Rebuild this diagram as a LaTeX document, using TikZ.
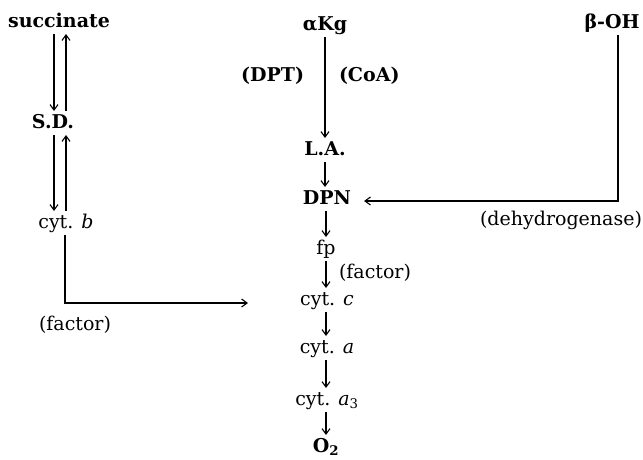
\documentclass[tikz,border=0pt]{standalone}
\usepackage{fontspec}
\setmainfont{DejaVu Serif}
\usetikzlibrary{arrows.meta}
\begin{document}
\begin{tikzpicture}[x=1pt,y=-1pt,
  t/.style={font=\fontsize{19}{23}\selectfont, inner sep=1pt, outer sep=2pt, text height=14pt, text depth=4pt},
  bt/.style={t, font=\fontsize{19}{23}\selectfont\bfseries},
  arr/.style={-{Straight Barb[length=5.5pt,width=8pt]}, line width=1.1pt},
  ln/.style={line width=1.1pt}]
\useasboundingbox (0,0) rectangle (643,459);
\node[bt] (succ) at (59,22) {succinate};
\node[bt] (akg) at (325,25) {αKg};
\node[bt] (boh) at (612,23) {β-OH};
\node[bt, anchor=east] (dpt) at (307,76) {(DPT)};
\node[bt, anchor=west] (coa) at (336,76) {(CoA)};
\node[bt] (sd) at (53,123) {S.D.};
\node[bt] (la) at (325,150) {L.A.};
\node[bt] (dpn) at (327,199) {DPN};
\node[t] (cytb) at (66,223) {cyt. \textit{b}};
\node[t] (dehyd) at (561,220) {(dehydrogenase)};
\node[t] (fp) at (326,249) {fp};
\node[t, anchor=west] (fac1) at (336,273) {(factor)};
\node[t] (cytc) at (327,300) {cyt. \textit{c}};
\node[t] (fac2) at (75,325) {(factor)};
\node[t] (cyta) at (327,348) {cyt. \textit{a}};
\node[t] (cyta3) at (327,400) {cyt. \textit{a}\textsubscript{3}};
\node[bt] (o2) at (326,447) {O\textsubscript{2}};
% middle column
\draw[arr] (akg.south -| la) -- (la.north);
\draw[arr] (la.south) -- (la.south |- dpn.north);
\draw[arr] (dpn.south -| fp) -- (fp.north);
\draw[arr] (fp.south) -- (fp.south |- cytc.north);
\draw[arr] (cytc.south -| fp) -- (cyta.north -| fp);
\draw[arr] (cyta.south -| fp) -- (cyta3.north -| fp);
\draw[arr] (cyta3.south -| fp) -- (o2.north -| fp);
% left column
\draw[arr] ([xshift=1pt]sd.north |- succ.south) -- ([xshift=1pt]sd.north);
\draw[arr] ([xshift=13pt]sd.north) -- ([xshift=13pt]sd.north |- succ.south);
\draw[arr] ([xshift=1pt]sd.south) -- ([xshift=1pt]sd.south |- cytb.north);
\draw[arr] ([xshift=13pt]sd.south |- cytb.north) -- ([xshift=13pt]sd.south);
\coordinate (bcorner) at (65,303);
\coordinate (bend) at (248,303);
\draw[arr] (cytb.south -| bcorner) -- (bcorner) -- (bend);
% right
\draw[arr] ([xshift=6pt]boh.south) |- ([xshift=10pt,yshift=-2pt]dpn.east);
\end{tikzpicture}
\end{document}
